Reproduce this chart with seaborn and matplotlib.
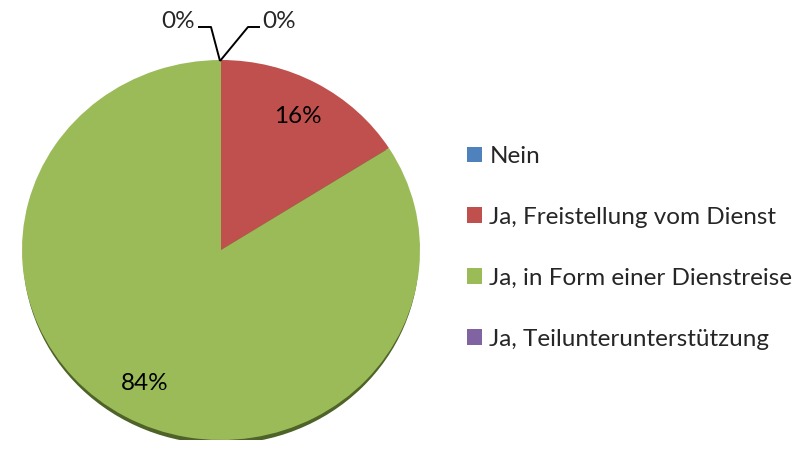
import matplotlib
matplotlib.use("Agg")
import matplotlib.pyplot as plt
from matplotlib.patches import Ellipse
import seaborn as sns

categories = ["Nein", "Ja, Freistellung vom Dienst",
              "Ja, in Form einer Dienstreise", "Ja, Teilunterunterstützung"]
shares = [0, 16, 84, 0]
colors = ["#4F81BD", "#C0504D", "#9BBB59", "#8064A2"]

sns.set_theme(style="white")
plt.rcParams["font.family"] = ["Lato", "DejaVu Sans"]

FS = 17.5
W, H = 803, 449
fig = plt.figure(figsize=(W / 100, H / 100), dpi=100)

# overlay axes in pixel coordinates for leader lines
over = fig.add_axes([0, 0, 1, 1], zorder=3)
over.set_xlim(0, W)
over.set_ylim(H, 0)
over.axis("off")
over.patch.set_alpha(0)

# pie axes: slightly squashed ellipse (tilted look)
left, top, right, bottom = 22, 60, 420, 440
pie_ax = fig.add_axes([left / W, 1 - bottom / H, (right - left) / W, (bottom - top) / H])

# drop shadow under the pie
pie_ax.add_patch(Ellipse((0, -0.022), 1.99, 2.0, color="#4E6328", zorder=0, lw=0))

wedges, texts, autotexts = pie_ax.pie(
    shares, colors=colors, startangle=90, counterclock=False,
    autopct=lambda p: f"{p:.0f}%" if p > 0.5 else "", pctdistance=0.8,
    wedgeprops=dict(linewidth=0), textprops=dict(fontsize=FS, color="black"),
    frame=False,
)
pie_ax.set_xlim(-1, 1)
pie_ax.set_ylim(-1, 1)
pie_ax.set_aspect("auto")
pie_ax.axis("off")

# zero-share labels with leader lines from the top of the pie
zero_idx = [i for i, v in enumerate(shares) if v == 0]
tip = (220, 61)
for k, i in enumerate(zero_idx):
    if k == 0:
        xs, ys = [tip[0], 211, 198], [tip[1], 27, 27]
        over.text(195, 22, f"{shares[i]}%", ha="right", va="center", fontsize=FS)
    else:
        xs, ys = [tip[0], 248, 260], [tip[1], 27, 27]
        over.text(262, 22, f"{shares[i]}%", ha="left", va="center", fontsize=FS)
    over.plot(xs, ys, color="black", lw=1.4, solid_capstyle="butt")

leg = fig.legend(
    wedges, categories, loc="upper left",
    bbox_to_anchor=(467 / W, 1 - 146 / H), frameon=False,
    fontsize=FS, handlelength=0.62, handleheight=0.62,
    handletextpad=0.3, labelspacing=1.64, borderaxespad=0, borderpad=0,
)

fig.savefig("out.png", dpi=100)
